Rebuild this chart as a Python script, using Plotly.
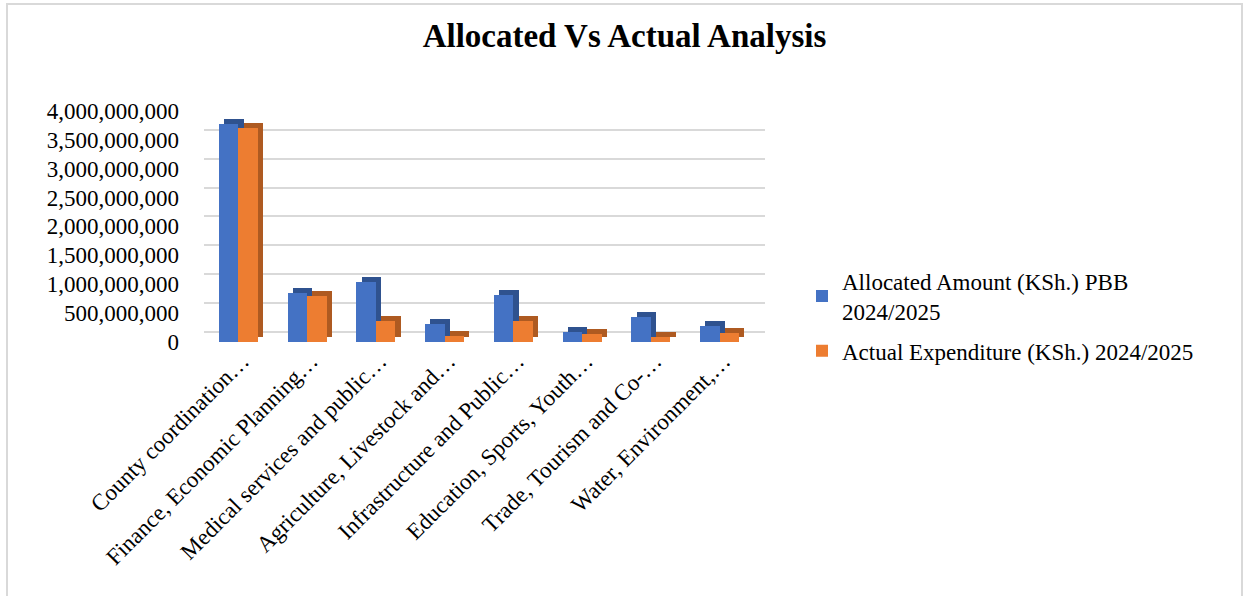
import plotly.graph_objects as go

categories = [
    "County coordination…",
    "Finance, Economic Planning…",
    "Medical services and public…",
    "Agriculture, Livestock and…",
    "Infrastructure and Public…",
    "Education, Sports, Youth…",
    "Trade, Tourism and Co-…",
    "Water, Environment,…",
]
allocated = [3770e6, 850e6, 1040e6, 305e6, 810e6, 172e6, 436e6, 276e6]
actual = [3707e6, 793e6, 362e6, 103e6, 362e6, 143e6, 91e6, 155e6]
series_names = ["Allocated Amount (KSh.) PBB<br>2024/2025", "Actual Expenditure (KSh.) 2024/2025"]
y_ticks = [0, 500e6, 1000e6, 1500e6, 2000e6, 2500e6, 3000e6, 3500e6, 4000e6]

front_colors = ["#4472C4", "#ED7D31"]
side_colors = ["#2F528F", "#AE5A21"]
FONT = "Liberation Serif"

xpos = list(range(len(categories)))
bw = 0.284
dx = 0.075      # depth (category units)
dy = 85e6       # depth (value units)

fig = go.Figure()
for i, (vals, name) in enumerate(zip([allocated, actual], series_names)):
    off = -bw if i == 0 else 0.0
    # depth faces (drawn behind the front face)
    fig.add_trace(go.Bar(
        x=xpos, y=vals, base=[dy] * len(vals), width=bw, offset=off + dx,
        marker=dict(color=side_colors[i], line=dict(width=0)),
        showlegend=False, hoverinfo="skip", legendgroup=f"g{i}"))
    fig.add_trace(go.Bar(
        x=xpos, y=vals, width=bw, offset=off, name=name, legendgroup=f"g{i}",
        marker=dict(color=front_colors[i], line=dict(width=0))))

# carrier for the back-wall grid axis and the shifted category-label axis
fig.add_trace(go.Scatter(x=xpos, y=allocated, xaxis="x2", yaxis="y2", mode="none",
                         showlegend=False, hoverinfo="skip"))

px_per_unit = 28.9 / 500e6
top_val = 241 / px_per_unit
back_shift = 10 / px_per_unit
px_per_cat = 68.75
xr = [-0.5, len(categories) - 0.5 + 11 / px_per_cat]
lab_shift = 4 / px_per_cat

fig.update_layout(
    width=1244, height=596,
    barmode="overlay",
    paper_bgcolor="white", plot_bgcolor="white",
    margin=dict(l=204, r=1244 - 765, t=101, b=596 - 342),
    font=dict(family=FONT, color="#000000", size=23),
    title=dict(text="<b>Allocated Vs Actual Analysis</b>", x=0.502, xanchor="center",
               y=0.94, yanchor="middle", font=dict(family=FONT, size=33, color="#000000")),
    xaxis=dict(range=xr, tickvals=xpos, showticklabels=False, showgrid=False,
               zeroline=False, showline=False, ticks=""),
    xaxis2=dict(range=[xr[0] - lab_shift, xr[1] - lab_shift], overlaying="x", side="bottom",
                tickvals=xpos, ticktext=categories, tickangle=-45, showgrid=False,
                zeroline=False, showline=False, ticks="", tickfont=dict(size=23)),
    yaxis=dict(range=[0, top_val], tickvals=y_ticks, tickformat=",.0f",
               showgrid=False, zeroline=False, showline=False, ticks="",
               tickfont=dict(size=23), ticklabelstandoff=24),
    yaxis2=dict(range=[-back_shift, top_val - back_shift], overlaying="y", side="left",
                tickvals=y_ticks, showticklabels=False, showgrid=True,
                gridcolor="#D9D9D9", gridwidth=2, zeroline=False, showline=False),
    legend=dict(x=(802 - 204) / 561, xanchor="left", y=(342 - 316) / 241, yanchor="middle",
                font=dict(size=23, family=FONT), traceorder="grouped", tracegroupgap=7,
                itemsizing="constant", bgcolor="rgba(0,0,0,0)"),
    bargap=0,
    shapes=[dict(type="rect", xref="paper", yref="paper",
                 x0=(7 - 204) / 561, x1=(1242 - 204) / 561,
                 y0=(342 - 640) / 241, y1=(342 - 4) / 241,
                 line=dict(color="#D9D9D9", width=2), fillcolor="rgba(0,0,0,0)", layer="below")],
)

fig.write_html("out.html")
